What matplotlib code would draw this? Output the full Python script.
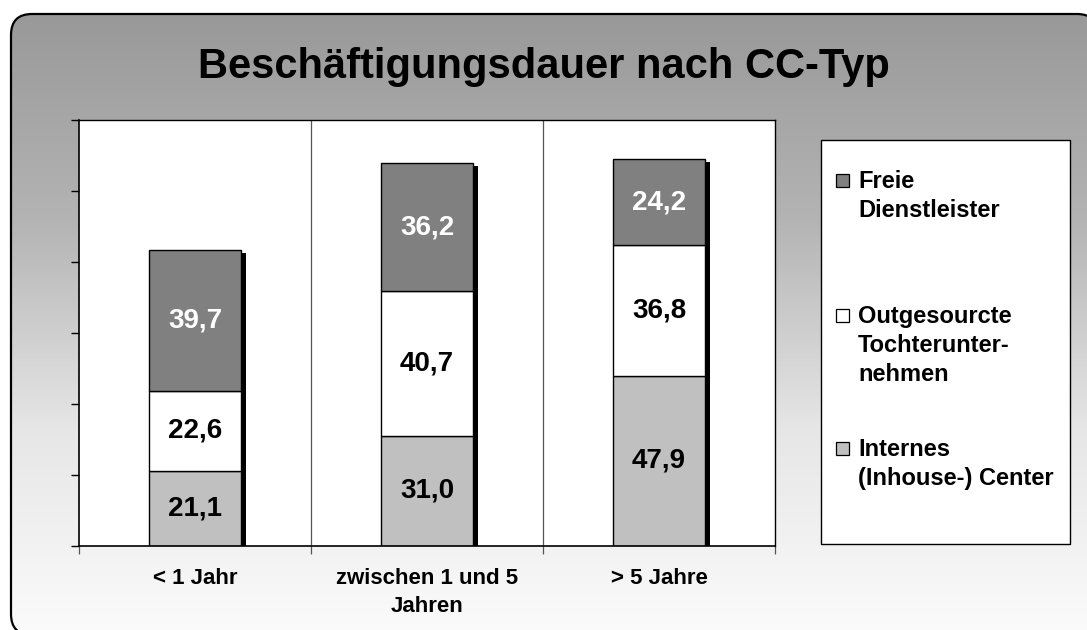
import numpy as np
import matplotlib
matplotlib.use("Agg")
import matplotlib.pyplot as plt
from matplotlib.patches import FancyBboxPatch, Rectangle
from matplotlib.transforms import ScaledTranslation

plt.rcParams['font.family'] = ['Liberation Sans', 'DejaVu Sans']
plt.rcParams['font.weight'] = 'bold'

categories = ["< 1 Jahr", "zwischen 1 und 5\nJahren", "> 5 Jahre"]
internes = [21.1, 31.0, 47.9]
outgesourcte = [22.6, 40.7, 36.8]
freie = [39.7, 36.2, 24.2]
series_names = ["Freie\nDienstleister", "Outgesourcte\nTochterunter-\nnehmen", "Internes\n(Inhouse-) Center"]
colors = {"freie": "#808080", "out": "#FFFFFF", "int": "#C0C0C0"}

W, H = 1087, 630
fig = plt.figure(figsize=(W / 100, H / 100), dpi=100)
fig.patch.set_facecolor("white")

# background rounded panel with vertical gradient
bg = fig.add_axes([0, 0, 1, 1], zorder=-5)
bg.axis("off")
px0, py0, pw, ph = 11, 14, 1087, 621
clip_box = FancyBboxPatch((px0, py0), pw, ph, boxstyle="round,pad=0,rounding_size=21",
                          facecolor="none", edgecolor="none", transform=bg.transData)
grad = np.linspace(0, 1, 256).reshape(-1, 1)
img = bg.imshow(grad, cmap=matplotlib.colors.LinearSegmentedColormap.from_list(
    "g", ["#999999", "#b4b4b4", "#e6e6e6", "#fbfbfb"]), aspect="auto",
    extent=(px0, px0 + pw, py0 + ph, py0), zorder=1)
bg.set_xlim(0, W)
bg.set_ylim(H, 0)
img.set_clip_path(clip_box)
# border (tiny face alpha keeps the curved path from being clipped oddly)
border = FancyBboxPatch((px0, py0), pw, ph, boxstyle="round,pad=0,rounding_size=21",
                        facecolor=(1, 1, 1, 0.003), edgecolor="black", linewidth=1.6, zorder=3)
bg.add_patch(border)

fig.text(0.5, 1 - 78 / H, "Beschäftigungsdauer nach CC-Typ", ha="center", va="baseline",
         fontsize=30, fontweight="bold", color="black")

# main axes
left, right, top, bottom = 79, 775, 120, 546
ax = fig.add_axes([left / W, 1 - bottom / H, (right - left) / W, (bottom - top) / H])
ax.set_facecolor("white")
x = np.arange(len(categories))
bw = 0.4

totals = np.array(internes) + np.array(outgesourcte) + np.array(freie)
shadow_tr = ax.transData + ScaledTranslation(4.5 / 100, -3 / 100, fig.dpi_scale_trans)
ax.bar(x, totals, width=bw, color="black", edgecolor="black", linewidth=0,
       transform=shadow_tr, zorder=1)

ax.bar(x, internes, width=bw, color=colors["int"], edgecolor="black", linewidth=1, zorder=2)
ax.bar(x, outgesourcte, width=bw, bottom=internes, color=colors["out"], edgecolor="black",
       linewidth=1, zorder=2)
bot3 = np.array(internes) + np.array(outgesourcte)
ax.bar(x, freie, width=bw, bottom=bot3, color=colors["freie"], edgecolor="black",
       linewidth=1, zorder=2)

def fmt(v):
    return f"{v:.1f}".replace(".", ",")

for i in range(len(x)):
    ax.text(x[i], internes[i] / 2, fmt(internes[i]), ha="center", va="center",
            fontsize=20, fontweight="bold", color="black", zorder=3)
    ax.text(x[i], internes[i] + outgesourcte[i] / 2, fmt(outgesourcte[i]), ha="center",
            va="center", fontsize=20, fontweight="bold", color="black", zorder=3)
    ax.text(x[i], bot3[i] + freie[i] / 2, fmt(freie[i]), ha="center", va="center",
            fontsize=20, fontweight="bold", color="white", zorder=3)

ax.set_xlim(-0.5, 2.5)
ax.set_ylim(0, 120)
ax.set_yticks(np.arange(0, 121, 20))
ax.set_yticklabels([])
ax.tick_params(axis="y", direction="out", length=6, width=1, color="black")
for xv in [0.5, 1.5]:
    ax.axvline(xv, color="#555555", linewidth=0.9, zorder=0)
ax.set_xticks([-0.5, 0.5, 1.5, 2.5], minor=True)
ax.tick_params(axis="x", which="minor", direction="out", length=6, width=0.9, color="#555555")
ax.set_xticks(x)
ax.set_xticklabels(categories, fontsize=16, fontweight="bold", linespacing=1.45)
ax.tick_params(axis="x", which="major", length=0, pad=16)
for s in ax.spines.values():
    s.set_color("black")
    s.set_linewidth(1)
ax.spines["left"].set_linewidth(1.2)
ax.spines["bottom"].set_linewidth(1.2)

# legend box (figure pixel coords)
lg = fig.add_axes([0, 0, 1, 1], zorder=5)
lg.set_xlim(0, W)
lg.set_ylim(H, 0)
lg.axis("off")
lg.add_patch(Rectangle((821, 140), 249, 404, facecolor="white", edgecolor="black", linewidth=1))
leg_colors = [colors["freie"], colors["out"], colors["int"]]
marker_y = [180, 315, 448]
text_top = [170, 305, 438]
for name, c, my, ty in zip(series_names, leg_colors, marker_y, text_top):
    lg.add_patch(Rectangle((836, my - 6.5), 13, 13, facecolor=c, edgecolor="black", linewidth=0.9))
    lg.text(858, ty, name, ha="left", va="top", fontsize=17, fontweight="bold",
            linespacing=1.33, color="black")

fig.savefig("out.png", dpi=100)
